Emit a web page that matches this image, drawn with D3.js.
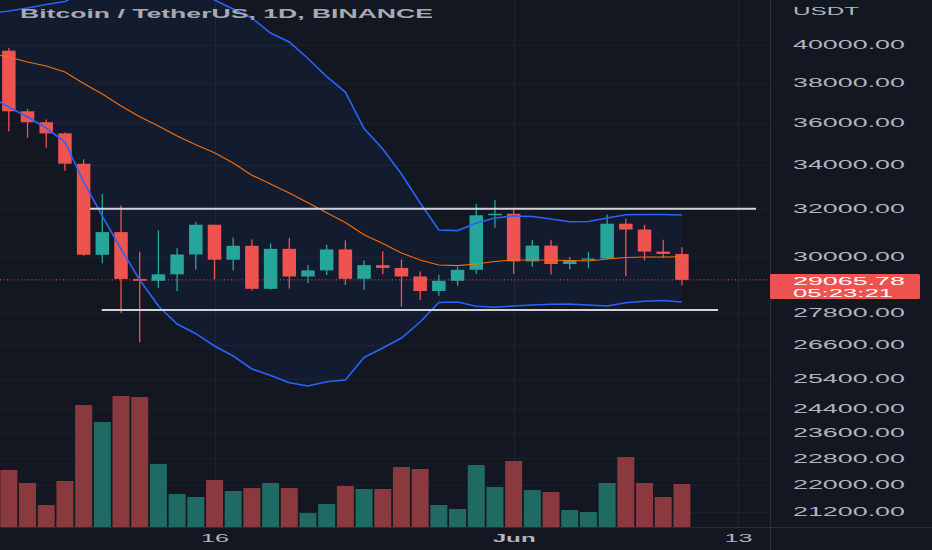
<!DOCTYPE html>
<html><head><meta charset="utf-8">
<script src="https://cdn.jsdelivr.net/npm/d3@7"></script>
<style>html,body{margin:0;padding:0;background:#131722;overflow:hidden}</style>
</head><body><svg id="c" width="932" height="550"></svg>
<script>
// ---------- DATA ----------
const dates = ["2022-05-05","2022-05-06","2022-05-07","2022-05-08","2022-05-09","2022-05-10","2022-05-11","2022-05-12","2022-05-13","2022-05-14","2022-05-15","2022-05-16","2022-05-17","2022-05-18","2022-05-19","2022-05-20","2022-05-21","2022-05-22","2022-05-23","2022-05-24","2022-05-25","2022-05-26","2022-05-27","2022-05-28","2022-05-29","2022-05-30","2022-05-31","2022-06-01","2022-06-02","2022-06-03","2022-06-04","2022-06-05","2022-06-06","2022-06-07","2022-06-08","2022-06-09","2022-06-10"];
const open  = [39695.74,36552.97,36013.77,35472.40,34038.39,30074.23,31017.11,29103.94,29029.74,29287.05,30086.74,31328.89,29874.01,30444.93,28715.33,30319.22,29201.01,29445.07,30293.93,29109.14,29654.58,29542.14,29201.35,28629.81,29031.33,29468.10,31734.23,31801.05,29805.84,30452.63,29700.21,29864.03,29919.20,31373.10,31125.32,30204.77,30109.93];
const high  = [39845.51,36675.63,36146.30,35514.22,34243.15,32658.99,32162.59,30200.00,31083.37,30343.27,31460.00,31328.90,30788.37,30709.99,30545.18,30777.33,29656.18,30487.99,30670.51,29845.86,30223.74,29886.64,29397.66,29266.66,29587.78,32222.00,32399.00,31982.97,30689.00,30699.00,29988.88,30189.00,31765.64,31589.60,31327.22,30700.00,30382.80];
const low   = [35571.90,35258.00,34785.00,33713.95,30033.33,29730.40,27785.00,26700.00,28751.67,28630.00,29480.00,29087.04,29450.38,28654.47,28691.38,28730.00,28947.28,29255.11,28866.35,28669.00,29294.21,28019.56,28282.90,28450.00,28839.21,29299.62,31200.01,29301.00,29594.55,29282.71,29485.00,29531.42,29890.23,29218.96,29843.88,29944.10,28850.00];
const close = [36552.97,36013.77,35472.39,34038.40,30076.31,31017.10,29103.94,29029.75,29287.05,30086.74,31328.89,29874.01,30444.93,28715.32,30319.23,29201.01,29445.06,30293.94,29109.15,29654.58,29542.15,29201.35,28629.80,29031.33,29468.10,31734.22,31801.04,29805.83,30452.62,29700.21,29864.04,29919.21,31373.10,31125.33,30204.77,30109.93,29065.78];
const volume = [106.0,81.8,40.9,85.6,226.9,195.3,243.7,241.8,117.2,61.4,55.8,87.4,67.0,72.5,81.8,72.5,26.0,42.8,76.3,70.7,70.7,111.6,107.9,40.9,33.5,115.3,74.4,122.8,68.8,65.1,31.6,27.9,81.8,130.2,81.8,55.8,80.0];

// Bollinger Bands (20, 2)
const bandDates = ["2022-05-04"].concat(dates);
const bbUpper = [41780,41890,42065,42264,42437,43000,43600,44300,44700,44600,43900,43200,42520,42007,41495,40658,40164,39273,38318,37524,35708,34726,33566,32268,31105,31080,31403,31617,31703,31682,31574,31458,31467,31617,31759,31768,31768,31746];
const bbBasis = [39560,39353,39086,38874,38559,37960,37422,36817,36285,35830,35346,34925,34552,34072,33511,33113,32710,32282,31846,31428,30907,30540,30148,29862,29660,29636,29700,29802,29862,29862,29862,29842,29822,29903,29964,29984,29984,29997];
const bbLower = [37290,36767,36270,35732,35058,33203,31703,30312,29062,28052,27374,27016,26568,26209,25750,25523,25275,25162,25309,25368,26156,26496,26858,27449,28186,28205,28041,28003,28052,28090,28117,28125,28090,28052,28178,28232,28263,28205];

// horizontal drawn levels
const levelPrices = [32020, 27900];
const levelFrom = ["2022-05-09T08:15","2022-05-09T23:15"];
const levelTo   = ["2022-06-13T23:10","2022-06-11T22:24"];

const priceTicks = [40000,38000,36000,34000,32000,30000,27800,26600,25400,24400,23600,22800,22000,21200];
const timeTicks = ["2022-05-16","2022-06-01","2022-06-13"];
const timeTickLabels = ["16","Jun","13"];
const lastPrice = 29065.78;
const countdown = "05:23:21";
const titleText = "Bitcoin / TetherUS, 1D, BINANCE";
const currency = "USDT";

// ---------- CHART ----------
const W = 932, H = 550, paneW = 770, paneH = 527;
const pd = d3.utcParse("%Y-%m-%d"), pdt = d3.utcParse("%Y-%m-%dT%H:%M");
const svg = d3.select("#c");
svg.append("rect").attr("width",W).attr("height",H).attr("fill","#131722");

const x = d3.scaleUtc().domain([pd("2022-05-16"), pd("2022-06-13")]).range([214.5, 738]);
const y = d3.scaleLog().domain([20772, 42525]).range([paneH, 0]);
const yv = d3.scaleLinear().domain([0, 250]).range([paneH, paneH - 134.4]);

const candles = dates.map((d,i)=>({t:pd(d),o:open[i],h:high[i],l:low[i],c:close[i],v:volume[i]}));
const bands = bandDates.map((d,i)=>({t:pd(d),u:bbUpper[i],m:bbBasis[i],l:bbLower[i]}));

svg.append("defs").append("clipPath").attr("id","pane").append("rect").attr("width",paneW).attr("height",paneH);
const pane = svg.append("g").attr("clip-path","url(#pane)");

// grid
pane.selectAll(".hg").data(priceTicks).join("line")
  .attr("x1",0).attr("x2",paneW).attr("y1",d=>Math.round(y(d))+0.5).attr("y2",d=>Math.round(y(d))+0.5)
  .attr("stroke","#1c202b").attr("stroke-width",1);
pane.selectAll(".vg").data(timeTicks).join("line")
  .attr("y1",0).attr("y2",paneH).attr("x1",d=>Math.round(x(pd(d)))+0.5).attr("x2",d=>Math.round(x(pd(d)))+0.5)
  .attr("stroke","#1f2330").attr("stroke-width",1);

// volume
pane.selectAll(".vol").data(candles).join("rect")
  .attr("x",d=>x(d.t)-8.5).attr("width",17)
  .attr("y",d=>yv(d.v)).attr("height",d=>paneH-yv(d.v))
  .attr("fill",d=>d.c>=d.o?"#1f6b63":"#8a3a3e");

// BB fill
pane.append("path").datum(bands)
  .attr("d",d3.area().x(d=>x(d.t)).y0(d=>y(d.l)).y1(d=>y(d.u)))
  .attr("fill","#2962ff").attr("fill-opacity",0.06);

// candles
const cg = pane.append("g");
cg.selectAll(".wick").data(candles).join("line")
  .attr("x1",d=>x(d.t)).attr("x2",d=>x(d.t)).attr("y1",d=>y(d.h)).attr("y2",d=>y(d.l))
  .attr("stroke",d=>d.c>=d.o?"#26a69a":"#ef5350").attr("stroke-width",1.3);
cg.selectAll(".body").data(candles).join("rect")
  .attr("x",d=>x(d.t)-6.75).attr("width",13.5)
  .attr("y",d=>Math.min(y(d.o),y(d.c)))
  .attr("height",d=>Math.max(1.2,Math.abs(y(d.o)-y(d.c))))
  .attr("fill",d=>d.c>=d.o?"#26a69a":"#ef5350");

// BB lines
const lineU = d3.line().x(d=>x(d.t)).y(d=>y(d.u));
const lineL = d3.line().x(d=>x(d.t)).y(d=>y(d.l));
const lineM = d3.line().x(d=>x(d.t)).y(d=>y(d.m));
pane.append("path").datum(bands).attr("d",lineU).attr("fill","none").attr("stroke","#2962ff").attr("stroke-width",1.6);
pane.append("path").datum(bands).attr("d",lineL).attr("fill","none").attr("stroke","#2962ff").attr("stroke-width",1.6);
pane.append("path").datum(bands).attr("d",lineM).attr("fill","none").attr("stroke","#ff6d00").attr("stroke-width",1.1);

// level lines
pane.selectAll(".lvl").data(levelPrices).join("line")
  .attr("x1",(d,i)=>x(pdt(levelFrom[i]))).attr("x2",(d,i)=>x(pdt(levelTo[i])))
  .attr("y1",d=>y(d)).attr("y2",d=>y(d))
  .attr("stroke","#d1d4dc").attr("stroke-width",2);

// last price line
pane.append("line").attr("x1",0).attr("x2",paneW).attr("y1",y(lastPrice)).attr("y2",y(lastPrice))
  .attr("stroke","#ef5350").attr("stroke-width",1).attr("stroke-dasharray","1,2.5");

// title
svg.append("text").attr("x",20).attr("y",17.5).text(titleText)
  .attr("font-family","Liberation Sans, Arial, sans-serif").attr("font-weight","bold").attr("font-size",13.5)
  .attr("fill","#a7aab2").attr("textLength",413).attr("lengthAdjust","spacingAndGlyphs");

// borders
svg.append("line").attr("x1",paneW+0.5).attr("x2",paneW+0.5).attr("y1",0).attr("y2",H).attr("stroke","#2a2e39");
svg.append("line").attr("x1",0).attr("x2",W).attr("y1",paneH+0.5).attr("y2",paneH+0.5).attr("stroke","#2a2e39");

// price axis
const ya = svg.append("g").attr("transform",`translate(${paneW},0)`)
  .call(d3.axisRight(y).tickValues(priceTicks).tickFormat(d3.format(".2f")).tickSize(0).tickPadding(23));
ya.select(".domain").remove();
ya.selectAll("text").attr("font-family","Liberation Sans, Arial, sans-serif").attr("font-size",12)
  .attr("fill","#b2b5be").attr("textLength",112).attr("lengthAdjust","spacingAndGlyphs");

svg.append("text").attr("x",793).attr("y",14.5).text(currency)
  .attr("font-family","Liberation Sans, Arial, sans-serif").attr("font-size",11.5).attr("fill","#b2b5be")
  .attr("textLength",66).attr("lengthAdjust","spacingAndGlyphs");

// time axis
const xa = svg.append("g").attr("transform",`translate(0,${paneH})`)
  .call(d3.axisBottom(x).tickValues(timeTicks.map(pd)).tickFormat((d,i)=>timeTickLabels[i]).tickSize(0).tickPadding(7));
xa.select(".domain").remove();
xa.selectAll("text").attr("font-family","Liberation Sans, Arial, sans-serif").attr("font-size",11.5)
  .attr("fill","#b2b5be").attr("font-weight",(d,i)=>timeTickLabels[i]==="Jun"?"bold":"normal")
  .attr("textLength",(d,i)=>timeTickLabels[i]==="Jun"?43:28).attr("lengthAdjust","spacingAndGlyphs");

// last price tag
const yp = y(lastPrice);
const tag = svg.append("g");
tag.append("rect").attr("x",paneW).attr("y",yp-6).attr("width",150).attr("height",25).attr("rx",1.5).attr("fill","#ef5350");
tag.append("text").attr("x",793).attr("y",yp+5).text(d3.format(".2f")(lastPrice))
  .attr("font-family","Liberation Sans, Arial, sans-serif").attr("font-size",11).attr("fill","#ffffff")
  .attr("textLength",112).attr("lengthAdjust","spacingAndGlyphs");
tag.append("text").attr("x",793).attr("y",yp+17.5).text(countdown)
  .attr("font-family","Liberation Sans, Arial, sans-serif").attr("font-size",11).attr("fill","#ffffff")
  .attr("textLength",100).attr("lengthAdjust","spacingAndGlyphs");
</script></body></html>
